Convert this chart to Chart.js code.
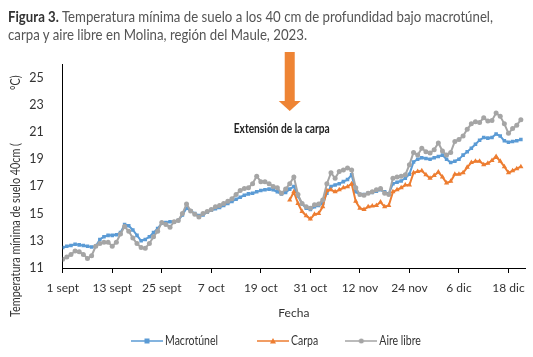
<!DOCTYPE html>
<html>
<head>
<meta charset="utf-8">
<script src="https://cdn.jsdelivr.net/npm/chart.js@4.4.0/dist/chart.umd.min.js"></script>
<style>
html,body{margin:0;padding:0;background:#fff;}
#wrap{position:relative;width:533px;height:357px;overflow:hidden;}
#title{position:absolute;left:8px;top:7px;font-family:Lato,"DejaVu Sans",sans-serif;font-size:16px;line-height:18px;color:#555;white-space:nowrap;transform-origin:0 0;}
#title b{color:#333;}
canvas{position:absolute;left:0;top:0;}
</style>
</head>
<body>
<div id="wrap">
<canvas id="c" width="533" height="357"></canvas>
<div id="title"><span id="t1"><b>Figura 3.</b> Temperatura mínima de suelo a los 40 cm de profundidad bajo macrotúnel,</span><br><span>carpa y aire libre en Molina, región del Maule, 2023.</span></div>
</div>
<script>
// ---- data (one value per day, day 0 = 1 sept 2023) ----
const SERIES_NAMES = ['Macrotúnel', 'Carpa', 'Aire libre'];
const TICK_LABELS = ['1 sept','13 sept','25 sept','7 oct','19 oct','31 oct','12 nov','24 nov','6 dic','18 dic'];
const Y_TICKS = [11, 13, 15, 17, 19, 21, 23, 25];
const MACROTUNEL = [
  12.5,12.6,12.65,12.75,12.7,12.65,12.6,12.55,12.6,13.1,
  13.3,13.4,13.4,13.45,13.6,14.2,14.1,13.8,13.4,13.0,
  13.1,13.3,13.6,13.9,14.3,14.35,14.4,14.4,14.5,14.9,
  15.4,15.2,15.0,14.85,14.9,15.1,15.25,15.35,15.45,15.6,
  15.75,15.9,16.05,16.2,16.35,16.45,16.5,16.6,16.7,16.75,
  16.8,16.75,16.6,16.45,16.55,16.8,17.0,16.3,15.7,15.4,
  15.3,15.5,15.6,15.75,16.5,17.0,17.1,17.2,17.35,17.5,
  17.85,16.6,16.4,16.4,16.5,16.55,16.65,16.75,16.6,16.45,
  17.2,17.3,17.4,17.6,17.9,18.8,19.0,19.1,19.05,19.0,
  19.1,19.2,19.3,19.0,18.75,18.85,19.0,19.3,19.55,19.8,
  20.1,20.4,20.6,20.55,20.6,20.85,20.7,20.35,20.25,20.3,
  20.35,20.45
];
const CARPA = [
  null,null,null,null,null,null,null,null,null,null,
  null,null,null,null,null,null,null,null,null,null,
  null,null,null,null,null,null,null,null,null,null,
  null,null,null,null,null,null,null,null,null,null,
  null,null,null,null,null,null,null,null,null,null,
  null,null,null,null,null,16.0,16.6,15.75,15.15,14.85,
  14.6,14.95,15.0,15.5,16.7,16.75,16.6,16.75,16.9,16.97,
  17.2,15.9,15.4,15.3,15.5,15.55,15.6,15.85,15.5,15.6,
  16.6,16.75,16.9,17.1,17.1,18.0,18.1,18.15,17.85,17.6,
  17.8,18.05,17.7,17.25,17.37,17.9,17.9,18.0,18.4,18.75,
  18.85,18.85,18.6,18.7,18.9,19.2,18.85,18.45,18.0,18.15,
  18.3,18.45
];
const AIRE_LIBRE = [
  11.65,11.8,12.0,12.25,12.2,12.0,11.7,11.9,12.6,12.8,
  12.9,12.9,12.6,12.9,13.5,14.05,13.7,13.2,12.8,12.5,
  12.45,12.8,13.3,13.7,14.35,14.2,14.0,14.4,14.5,15.0,
  15.7,15.2,14.95,14.75,15.0,15.15,15.3,15.5,15.6,15.75,
  15.9,16.1,16.4,16.7,16.85,16.9,17.2,17.75,17.35,17.35,
  17.2,17.0,16.9,16.5,16.8,17.2,17.7,16.4,15.75,15.5,
  15.4,15.65,15.7,16.0,17.2,18.0,17.6,18.1,18.2,18.35,
  18.2,16.9,16.4,16.35,16.5,16.6,16.75,16.85,16.5,16.4,
  17.6,17.7,17.75,17.85,18.6,19.5,19.3,19.8,19.55,19.45,
  19.7,20.2,19.6,19.3,19.5,20.3,20.45,20.7,21.2,21.6,
  21.75,21.7,22.05,21.8,21.85,22.4,22.15,21.6,20.9,21.25,
  21.5,21.9
];
const DAYS = MACROTUNEL.map((_, i) => i);   // day index since 1 sept
const TICK_STEP_DAYS = 12;
const ARROW_DAY = 55;
const ANNOTATION = 'Extensión de la carpa';
const Y_TITLE_A = 'Temperatura mínima de suelo 40cm (';
const Y_TITLE_B = '°C)';
const X_TITLE = 'Fecha';

const COLORS = ['#5B9BD5', '#ED7D31', '#A5A5A5'];
const STYLES = ['rect', 'triangle', 'circle'];
const FONT = 'Lato,"DejaVu Sans",sans-serif';

// fit the HTML caption to the reference width
(function () {
  const t = document.getElementById('title');
  const w = document.getElementById('t1').getBoundingClientRect().width;
  t.style.transform = 'scaleX(' + (485 / w) + ')';
})();

function legendImage(color, style) {
  const c = document.createElement('canvas');
  c.width = 32; c.height = 8;
  const g = c.getContext('2d');
  g.strokeStyle = color; g.fillStyle = color; g.lineWidth = 1.5;
  g.beginPath(); g.moveTo(0, 4); g.lineTo(32, 4); g.stroke();
  g.beginPath();
  if (style === 'rect') g.rect(13.5, 1.5, 5, 5);
  else if (style === 'triangle') { g.moveTo(16, 1); g.lineTo(19, 6.5); g.lineTo(13, 6.5); g.closePath(); }
  else g.arc(16, 4, 2.5, 0, Math.PI * 2);
  g.fill();
  return c;
}

const customLegend = {
  id: 'customLegend',
  afterDraw(chart) {
    const ctx = chart.ctx;
    const y = 341;
    const gaps = [39, 27];
    let x = 131;
    ctx.save();
    ctx.font = '13px ' + FONT;
    ctx.textBaseline = 'middle';
    ctx.fillStyle = '#333';
    const sx = 53 / ctx.measureText(SERIES_NAMES[0]).width;
    chart.data.datasets.forEach((ds, i) => {
      const img = legendImage(ds.borderColor, ds.pointStyle);
      ctx.drawImage(img, x, y - 4);
      x += 34;
      const w = ctx.measureText(ds.label).width * sx;
      ctx.save();
      ctx.translate(x, y); ctx.scale(sx, 1);
      ctx.fillText(ds.label, 0, 0);
      ctx.restore();
      x += w + (gaps[i] || 0);
    });
    ctx.restore();
  }
};

const annotations = {
  id: 'annotations',
  afterDraw(chart) {
    const ctx = chart.ctx;
    const x = chart.scales.x.getPixelForValue(ARROW_DAY);
    ctx.save();
    ctx.fillStyle = '#EE8434';
    ctx.fillRect(x - 5, 52, 10, 50);
    ctx.beginPath();
    ctx.moveTo(x - 11, 101); ctx.lineTo(x + 11, 101); ctx.lineTo(x, 111);
    ctx.closePath(); ctx.fill();
    ctx.fillStyle = '#222';
    ctx.font = 'bold 13.5px ' + FONT;
    ctx.textAlign = 'center';
    ctx.textBaseline = 'middle';
    ctx.save();
    ctx.translate(x - 8, 129);
    ctx.scale(96 / ctx.measureText(ANNOTATION).width, 1);
    ctx.fillText(ANNOTATION, 0, 0);
    ctx.restore();
    // y axis title
    ctx.font = '13px ' + FONT;
    ctx.fillStyle = '#333';
    ctx.textAlign = 'left';
    const sy = 174 / ctx.measureText(Y_TITLE_A).width;
    ctx.translate(16, 317);
    ctx.rotate(-Math.PI / 2);
    ctx.scale(sy, 1);
    ctx.fillText(Y_TITLE_A, 0, 0);
    ctx.fillText(Y_TITLE_B, (317 - 90) / sy, 0);
    ctx.restore();
  }
};

new Chart(document.getElementById('c'), {
  type: 'line',
  data: {
    labels: DAYS,
    datasets: [
      { label: SERIES_NAMES[0], data: MACROTUNEL, order: 3 },
      { label: SERIES_NAMES[1], data: CARPA, order: 2 },
      { label: SERIES_NAMES[2], data: AIRE_LIBRE, order: 1 }
    ].map((d, i) => Object.assign(d, {
      borderColor: COLORS[i], backgroundColor: COLORS[i],
      pointBackgroundColor: COLORS[i], pointBorderColor: COLORS[i],
      pointStyle: STYLES[i], pointRadius: i === 1 ? 3 : 2.5, pointBorderWidth: 0,
      borderWidth: 2, tension: 0, spanGaps: false
    }))
  },
  options: {
    responsive: false,
    animation: false,
    devicePixelRatio: 1,
    layout: { padding: { top: 64, left: 0, right: 8, bottom: 35 } },
    plugins: { legend: { display: false }, tooltip: { enabled: false }, title: { display: false } },
    scales: {
      x: {
        type: 'linear', min: 0, max: 112,
        afterFit: s => { s.height = 54; },
        border: { display: true, color: '#000', width: 1 },
        grid: { display: true, drawOnChartArea: false, drawTicks: true, tickLength: 5, color: '#000' },
        ticks: {
          stepSize: TICK_STEP_DAYS, includeBounds: false, autoSkip: false, maxRotation: 0,
          padding: 8, color: '#333', font: { family: FONT, size: 12 },
          callback: v => TICK_LABELS[v / TICK_STEP_DAYS]
        },
        title: { display: true, text: X_TITLE, color: '#333', font: { family: FONT, size: 12 }, padding: { top: 0, bottom: 2 } }
      },
      y: {
        min: 11, max: 26,
        afterFit: s => { s.width = 62.7; },
        afterBuildTicks: s => { s.ticks = Y_TICKS.map(v => ({ value: v })); },
        border: { display: true, color: '#000', width: 1 },
        grid: { display: false, drawTicks: false },
        ticks: { padding: 19, color: '#333', font: { family: FONT, size: 12.5 } }
      }
    }
  },
  plugins: [customLegend, annotations]
});
</script>
</body>
</html>
